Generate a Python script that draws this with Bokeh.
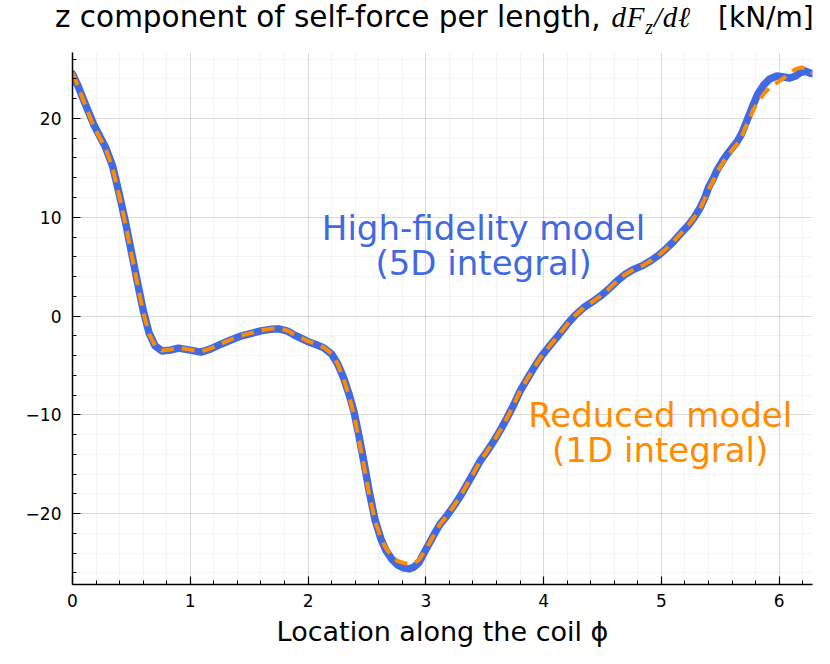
from bokeh.plotting import figure
from bokeh.models import Range1d, SingleIntervalTicker, Div
from bokeh.layouts import column
from bokeh.embed import file_html
from bokeh.resources import INLINE
from bokeh.core.properties import value

# High-fidelity model (5D integral)
phi_hi = [0.00, 0.05, 0.10, 0.18, 0.28, 0.34, 0.40, 0.45, 0.50, 0.55, 0.60, 0.65, 0.70, 0.76,
          0.83, 0.90, 1.00, 1.09, 1.17, 1.26, 1.35, 1.43, 1.52, 1.60, 1.68, 1.75, 1.82, 1.88,
          1.95, 2.00, 2.06, 2.13, 2.20, 2.25, 2.30, 2.35, 2.39, 2.43, 2.47, 2.52, 2.57, 2.62,
          2.66, 2.71, 2.76, 2.81, 2.86, 2.90, 2.94, 2.98, 3.03, 3.08, 3.12, 3.18, 3.24, 3.30,
          3.35, 3.41, 3.46, 3.52, 3.58, 3.64, 3.69, 3.75, 3.80, 3.86, 3.92, 3.98, 4.06, 4.13,
          4.20, 4.27, 4.34, 4.41, 4.48, 4.55, 4.62, 4.69, 4.77, 4.84, 4.91, 4.97, 5.03, 5.10,
          5.16, 5.23, 5.28, 5.33, 5.37, 5.40, 5.44, 5.47, 5.52, 5.56, 5.60, 5.64, 5.68, 5.71,
          5.75, 5.78, 5.82, 5.87, 5.92, 5.98, 6.04, 6.09, 6.14, 6.18, 6.22, 6.26, 6.283]
f_hi = [24.5, 23.2, 21.7, 19.4, 17.1, 15.2, 12.2, 9.5, 6.5, 3.5, 0.6, -1.7, -3.0, -3.55,
        -3.45, -3.25, -3.45, -3.65, -3.35, -2.85, -2.4, -2.03, -1.75, -1.5, -1.35, -1.3, -1.5, -1.9,
        -2.3, -2.6, -2.85, -3.2, -3.85, -4.8, -6.2, -8.0, -9.7, -12.0, -14.5, -17.8, -20.7, -22.6,
        -23.7, -24.6, -25.2, -25.5, -25.6, -25.4, -25.0, -24.1, -23.0, -21.9, -21.1, -20.2, -19.2, -18.1,
        -17.05, -15.8, -14.7, -13.7, -12.6, -11.4, -10.3, -8.9, -7.6, -6.4, -5.2, -4.1, -2.9, -1.9,
        -0.84, 0.1, 0.84, 1.4, 2.0, 2.7, 3.5, 4.2, 4.75, 5.1, 5.6, 6.1, 6.7, 7.5,
        8.3, 9.2, 10.0, 10.97, 12.0, 13.0, 13.9, 14.7, 15.7, 16.4, 17.0, 17.6, 18.4, 19.3,
        20.5, 21.4, 22.5, 23.4, 24.0, 24.3, 24.2, 24.1, 24.3, 24.65, 24.8, 24.6, 24.55]

# Reduced model (1D integral)
phi_red = [0.00, 0.05, 0.10, 0.18, 0.28, 0.34, 0.40, 0.45, 0.50, 0.55, 0.60, 0.65, 0.70, 0.76,
           0.83, 0.90, 1.00, 1.09, 1.17, 1.26, 1.35, 1.43, 1.52, 1.60, 1.68, 1.75, 1.82, 1.88,
           1.95, 2.00, 2.06, 2.13, 2.20, 2.25, 2.30, 2.35, 2.39, 2.43, 2.47, 2.52, 2.57, 2.62,
           2.66, 2.71, 2.76, 2.81, 2.86, 2.90, 2.94, 2.98, 3.03, 3.08, 3.12, 3.18, 3.24, 3.30,
           3.35, 3.41, 3.46, 3.52, 3.58, 3.64, 3.69, 3.75, 3.80, 3.86, 3.92, 3.98, 4.06, 4.13,
           4.20, 4.27, 4.34, 4.41, 4.48, 4.55, 4.62, 4.69, 4.77, 4.84, 4.91, 4.97, 5.03, 5.10,
           5.16, 5.23, 5.28, 5.33, 5.37, 5.40, 5.44, 5.47, 5.52, 5.56, 5.60, 5.64, 5.68, 5.71,
           5.75, 5.78, 5.82, 5.87, 5.92, 5.98, 6.04, 6.09, 6.14, 6.18, 6.22, 6.26, 6.283]
f_red = [24.6, 23.2, 21.6, 19.2, 17.0, 15.0, 12.0, 9.3, 6.3, 3.3, 0.4, -1.8, -3.0, -3.5,
         -3.4, -3.2, -3.4, -3.6, -3.3, -2.8, -2.35, -2.0, -1.7, -1.45, -1.3, -1.25, -1.45, -1.85,
         -2.25, -2.55, -2.8, -3.15, -3.8, -4.8, -6.3, -8.2, -10.0, -12.4, -14.9, -18.1, -20.8, -22.5,
         -23.5, -24.3, -24.8, -25.0, -25.1, -25.0, -24.7, -24.0, -23.0, -21.9, -21.1, -20.2, -19.2, -18.1,
         -17.05, -15.8, -14.7, -13.7, -12.6, -11.4, -10.3, -8.9, -7.6, -6.4, -5.2, -4.1, -2.9, -1.9,
         -0.84, 0.1, 0.84, 1.4, 2.0, 2.7, 3.5, 4.2, 4.75, 5.1, 5.6, 6.1, 6.7, 7.5,
         8.3, 9.2, 10.0, 10.9, 11.9, 12.8, 13.7, 14.5, 15.5, 16.2, 16.8, 17.4, 18.1, 19.0,
         20.0, 20.9, 21.6, 22.5, 23.1, 23.6, 24.1, 24.6, 25.0, 25.15, 25.1, 24.8, 24.6]

x_ticks_interval = 1
y_ticks_interval = 10
y_label_overrides = {-20: "\u221220", -10: "\u221210", 0: "0", 10: "10", 20: "20"}

title_main = "z component of self-force per length,"
title_unit = "[kN/m]"
x_label = "Location along the coil \u03d5"
hi_text = ["High-fidelity model", "(5D integral)"]
hi_x = [3.49, 3.49]
hi_y = [8.9, 5.4]
red_text = ["Reduced model", "(1D integral)"]
red_x = [4.99, 4.99]
red_y = [-10.05, -13.6]

BLUE = "#4169E1"
ORANGE = "#FF8C00"
FW, FH = 740, 532
TITLE_H = 44

title_html = (
    '<div style="position:relative; left:55px; top:1px; font-family:\'DejaVu Sans\'; font-size:29.5px; '
    'line-height:32px; white-space:nowrap; color:black;">'
    + title_main +
    '<span style="margin-left:11px; font-family:\'Liberation Serif\'; font-style:italic; '
    'font-size:29px; letter-spacing:0.8px;">'
    'dF<sub style="font-size:20px;">z</sub>/d\u2113</span>'
    '<span style="margin-left:27px; font-size:28px;">' + title_unit + '</span></div>'
)
title_div = Div(text=title_html, width=828, height=TITLE_H, margin=(0, 0, 0, 0))

p = figure(frame_width=FW, frame_height=FH, output_backend="svg", toolbar_location=None,
           title=None, min_border_left=72, min_border_right=10, min_border_top=52 - TITLE_H,
           min_border_bottom=72, x_range=Range1d(0, 6.2832), y_range=Range1d(-27.18, 26.68))
p.outline_line_color = None
p.background_fill_color = "white"
p.border_fill_color = "white"

xt = SingleIntervalTicker(interval=x_ticks_interval, num_minor_ticks=5)
yt = SingleIntervalTicker(interval=y_ticks_interval, num_minor_ticks=5)
p.xaxis.ticker = xt
p.yaxis.ticker = yt
p.xgrid.ticker = xt
p.ygrid.ticker = yt
p.yaxis.major_label_overrides = y_label_overrides

for ax in (p.xaxis, p.yaxis):
    ax.axis_line_color = "black"
    ax.axis_line_width = 1.5
    ax.major_tick_in = 8
    ax.major_tick_out = 0
    ax.minor_tick_in = 4
    ax.minor_tick_out = 0
    ax.major_tick_line_color = "black"
    ax.minor_tick_line_color = "black"
    ax.major_tick_line_width = 1.2
    ax.minor_tick_line_width = 1.0
    ax.major_label_text_font = "DejaVu Sans"
    ax.major_label_text_font_size = "17px"
    ax.major_label_text_color = "black"
p.yaxis.major_label_standoff = 11
p.xaxis.major_label_standoff = 9
p.xaxis.axis_label = x_label
p.xaxis.axis_label_text_font = "DejaVu Sans"
p.xaxis.axis_label_text_font_size = "27px"
p.xaxis.axis_label_text_font_style = "normal"
p.xaxis.axis_label_text_color = "black"
p.xaxis.axis_label_standoff = 6

for g in (p.xgrid, p.ygrid):
    g.grid_line_color = "black"
    g.grid_line_alpha = 0.1
    g.minor_grid_line_color = "black"
    g.minor_grid_line_alpha = 0.045

p.line(phi_hi, f_hi, line_color=BLUE, line_width=7.5, line_cap="round", line_join="round")
p.line(phi_red, f_red, line_color=ORANGE, line_width=4, line_dash="13 8", line_join="round")

p.text(x=hi_x, y=hi_y, text=hi_text, text_align="center", text_baseline="alphabetic",
       text_color=BLUE, text_font=value("DejaVu Sans"), text_font_size="34px")
p.text(x=red_x, y=red_y, text=red_text, text_align="center", text_baseline="alphabetic",
       text_color=ORANGE, text_font=value("DejaVu Sans"), text_font_size="34px")

layout = column(title_div, p, spacing=0)
open("out.html", "w").write(file_html(layout, INLINE))
